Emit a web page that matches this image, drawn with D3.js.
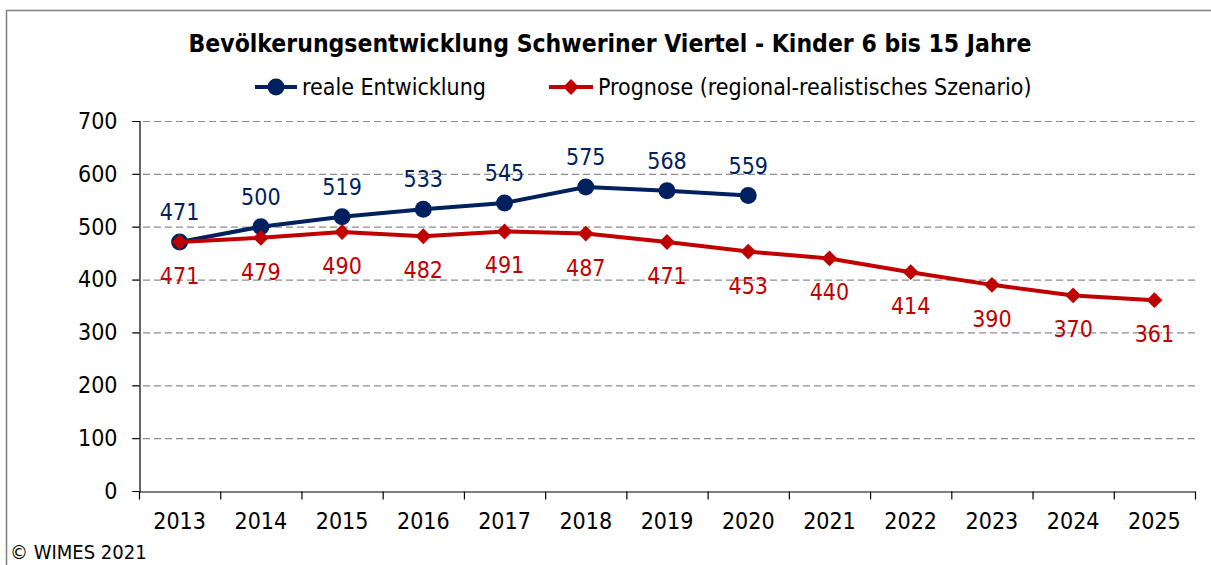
<!DOCTYPE html>
<html>
<head>
<meta charset="utf-8">
<script src="https://cdn.jsdelivr.net/npm/d3@7"></script>
<style>
  html, body { margin: 0; padding: 0; background: #fff; }
  svg { display: block; }
  text { font-family: "DejaVu Sans Condensed", "DejaVu Sans", sans-serif; }
</style>
</head>
<body>
<svg id="chart" width="1211" height="565"></svg>
<script>
// Jahre und Werte
const years = ["2013","2014","2015","2016","2017","2018","2019","2020","2021","2022","2023","2024","2025"];
const realYears = ["2013","2014","2015","2016","2017","2018","2019","2020"];
const realValues = [471, 500, 519, 533, 545, 575, 568, 559];
const prognoseValues = [471, 479, 490, 482, 491, 487, 471, 453, 440, 414, 390, 370, 361];
const yTicks = [0, 100, 200, 300, 400, 500, 600, 700];

const title = "Bevölkerungsentwicklung Schweriner Viertel - Kinder 6 bis 15 Jahre";
const legendReal = "reale Entwicklung";
const legendPrognose = "Prognose (regional-realistisches Szenario)";
const copyright = "© WIMES 2021";

const blue = "#002060";
const red = "#C00000";
const fontStack = '"DejaVu Sans Condensed", "DejaVu Sans", sans-serif';
const fs = 23;

const svg = d3.select("#chart");

// Rahmen
svg.append("rect")
  .attr("x", 6.5).attr("y", 10.5)
  .attr("width", 1220).attr("height", 600)
  .attr("fill", "none").attr("stroke", "#7f7f7f").attr("stroke-width", 1.5);

const plotLeft = 139, plotRight = 1195, plotTop = 121, plotBottom = 491;

const x = d3.scaleBand().domain(years).range([plotLeft, plotRight]);
const y = d3.scaleLinear().domain([0, 700]).range([plotBottom, plotTop]);
const cx = d => x(d) + x.bandwidth() / 2;

// Gitterlinien
svg.append("g")
  .selectAll("line")
  .data(yTicks.filter(t => t > 0))
  .join("line")
  .attr("x1", plotLeft - 7).attr("x2", plotRight)
  .attr("y1", d => y(d) + 0.5).attr("y2", d => y(d) + 0.5)
  .attr("stroke", "#8c8c8c").attr("stroke-width", 1.2)
  .attr("stroke-dasharray", "7,4");

// Y-Achse
const yAxis = svg.append("g")
  .attr("transform", `translate(${plotLeft + 0.5},0)`)
  .call(d3.axisLeft(y).tickValues(yTicks).tickSize(7).tickPadding(15));
yAxis.select(".domain").attr("stroke", "#000").attr("stroke-width", 1.2);
yAxis.selectAll(".tick line").attr("stroke", "#000");
yAxis.selectAll(".tick text")
  .attr("font-size", fs).attr("fill", "#000")
  .style("font-family", fontStack);

// X-Achse
const xAxis = svg.append("g")
  .attr("transform", `translate(0,${plotBottom + 0.5})`)
  .call(d3.axisBottom(x).tickSize(0).tickPadding(21));
xAxis.select(".domain").attr("stroke", "#000").attr("stroke-width", 1.2);
xAxis.selectAll(".tick text")
  .attr("font-size", fs).attr("fill", "#000")
  .style("font-family", fontStack);
// Teilstriche zwischen den Kategorien
xAxis.append("g")
  .selectAll("line")
  .data(d3.range(years.length + 1))
  .join("line")
  .attr("x1", i => plotLeft + i * x.bandwidth() + 0.5)
  .attr("x2", i => plotLeft + i * x.bandwidth() + 0.5)
  .attr("y1", 0).attr("y2", 8)
  .attr("stroke", "#000").attr("stroke-width", 1.2);

const line = d3.line().x(d => cx(d[0])).y(d => y(d[1]));

const realData = realYears.map((yr, i) => [yr, realValues[i]]);
const progData = years.map((yr, i) => [yr, prognoseValues[i]]);

// Reale Entwicklung
svg.append("path")
  .datum(realData)
  .attr("d", line)
  .attr("fill", "none").attr("stroke", blue).attr("stroke-width", 4)
  .attr("stroke-linejoin", "round");
svg.append("g")
  .selectAll("circle")
  .data(realData)
  .join("circle")
  .attr("cx", d => cx(d[0])).attr("cy", d => y(d[1]))
  .attr("r", 8.5).attr("fill", blue);

// Prognose
svg.append("path")
  .datum(progData)
  .attr("d", line)
  .attr("fill", "none").attr("stroke", red).attr("stroke-width", 4)
  .attr("stroke-linejoin", "round");
const diamond = d3.symbol().type(d3.symbolDiamond2).size(160);
svg.append("g")
  .selectAll("path")
  .data(progData)
  .join("path")
  .attr("transform", d => `translate(${cx(d[0])},${y(d[1])})`)
  .attr("d", diamond)
  .attr("fill", red);

// Datenbeschriftungen
svg.append("g")
  .selectAll("text")
  .data(realData)
  .join("text")
  .attr("x", d => cx(d[0])).attr("y", d => y(d[1]) - 22)
  .attr("text-anchor", "middle")
  .attr("font-size", fs).attr("fill", blue)
  .text(d => d[1]);
svg.append("g")
  .selectAll("text")
  .data(progData)
  .join("text")
  .attr("x", d => cx(d[0])).attr("y", d => y(d[1]) + 42)
  .attr("text-anchor", "middle")
  .attr("font-size", fs).attr("fill", red)
  .text(d => d[1]);

// Titel
svg.append("text")
  .attr("x", 610).attr("y", 52)
  .attr("text-anchor", "middle")
  .attr("font-size", 24.5).attr("font-weight", "bold").attr("fill", "#000")
  .text(title);

// Legende
const lg = svg.append("g");
lg.append("line").attr("x1", 255).attr("x2", 297).attr("y1", 87).attr("y2", 87)
  .attr("stroke", blue).attr("stroke-width", 4);
lg.append("circle").attr("cx", 276).attr("cy", 87).attr("r", 8.5).attr("fill", blue);
lg.append("text").attr("x", 302).attr("y", 95).attr("font-size", fs).attr("fill", "#000")
  .text(legendReal);
lg.append("line").attr("x1", 549).attr("x2", 593).attr("y1", 87).attr("y2", 87)
  .attr("stroke", red).attr("stroke-width", 4);
lg.append("path").attr("transform", "translate(571,87)").attr("d", diamond).attr("fill", red);
lg.append("text").attr("x", 598).attr("y", 95).attr("font-size", fs).attr("fill", "#000")
  .text(legendPrognose);

// Copyright
svg.append("text")
  .attr("x", 10).attr("y", 559)
  .attr("font-size", 20).attr("fill", "#000")
  .text(copyright);
</script>
</body>
</html>
